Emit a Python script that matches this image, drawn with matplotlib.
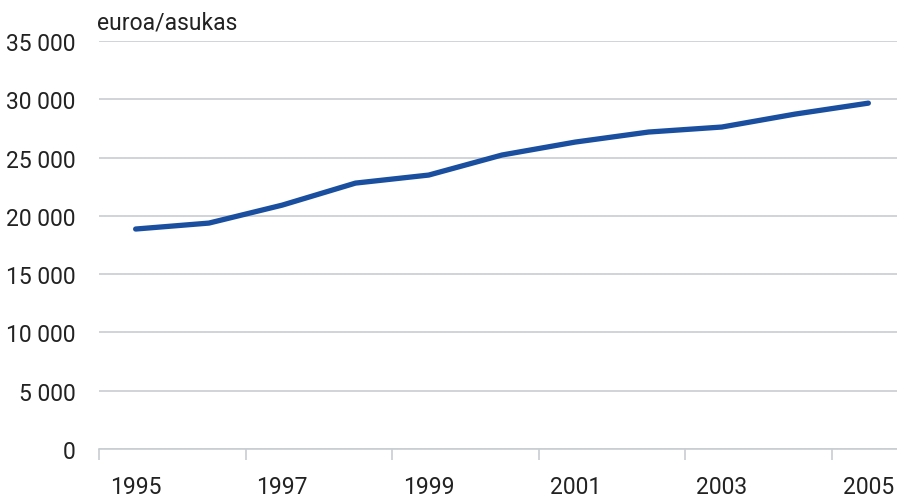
import matplotlib
matplotlib.use('Agg')
import matplotlib.pyplot as plt
from matplotlib.ticker import FuncFormatter, FixedLocator

# data
years = list(range(1995, 2006))
values = [18870, 19380, 20920, 22810, 23500, 25220, 26330, 27190, 27620, 28730, 29670]
yticks = list(range(0, 35001, 5000))
unit_label = "euroa/asukas"

plt.rcParams['font.family'] = ['Roboto', 'DejaVu Sans']
fs = 16.5

fig = plt.figure(figsize=(8.97, 5.02), dpi=100)
# plot area runs past the right edge, like the cropped original
ax = fig.add_axes([99 / 897, 1 - 450 / 502, 806 / 897, 408 / 502])

pos = list(range(len(years)))
ax.plot(pos, values, color='#1a4fa0', lw=3.8, solid_capstyle='round', zorder=3)

ax.set_xlim(-0.5, len(years) - 0.5)
ax.set_ylim(0, 35000)
ax.set_yticks(yticks)
ax.yaxis.set_major_formatter(FuncFormatter(lambda v, p: f"{int(v):,}".replace(',', ' ')))
ax.grid(axis='y', color='#c8cdd2', lw=1.2)
ax.set_axisbelow(True)

# category style x axis: marks between pairs of years, labels under odd years
ax.xaxis.set_major_locator(FixedLocator([p - 0.5 for p in pos[::2]]))
ax.xaxis.set_minor_locator(FixedLocator(pos[::2]))
ax.set_xticklabels([])
ax.set_xticklabels([str(y) for y in years[::2]], minor=True)
ax.tick_params(axis='x', which='major', length=8, width=1.2, color='#c8cdd2')
ax.tick_params(axis='x', which='minor', length=0, pad=19, labelsize=fs, labelcolor='#222222')
ax.tick_params(axis='y', length=0, pad=17, labelsize=fs, labelcolor='#222222')

for s in ['top', 'right', 'left']:
    ax.spines[s].set_visible(False)
ax.spines['bottom'].set_color('#c8cdd2')
ax.spines['bottom'].set_linewidth(1.2)

fig.text(97 / 897, 1 - 30 / 502, unit_label, fontsize=fs, color='#222222')

fig.savefig('out.png', dpi=100)
